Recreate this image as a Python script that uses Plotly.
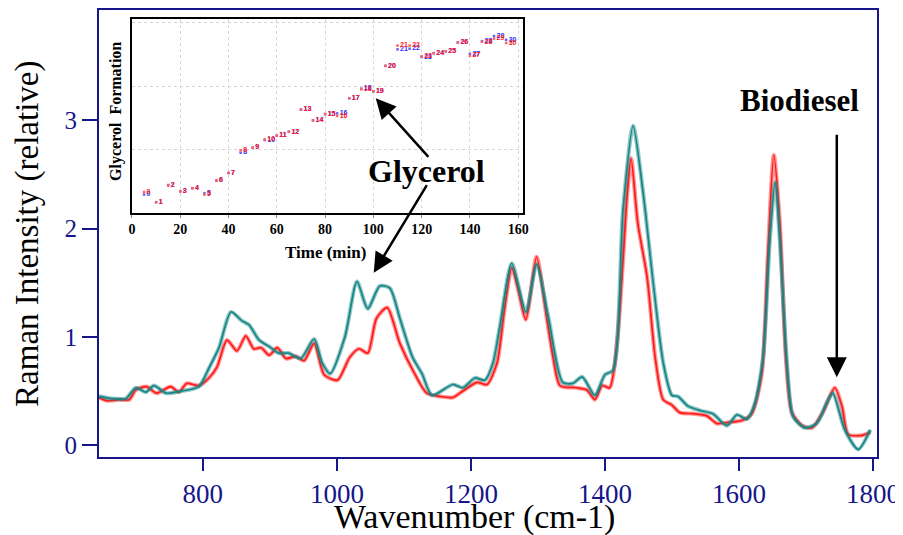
import plotly.graph_objects as go

# ---------------- main spectra ----------------
red_wn = [645, 657, 675, 690, 700, 716, 731, 752, 764, 776, 794, 809, 821, 836, 851, 864, 876, 887, 899,
          911, 924, 939, 951, 966, 981, 1001, 1019, 1033, 1046, 1059, 1075, 1094, 1116, 1134, 1154, 1173,
          1188, 1209, 1224, 1239, 1250, 1261, 1270, 1282, 1298, 1313, 1323, 1333, 1358, 1373, 1385, 1396,
          1407, 1418, 1427, 1433, 1439, 1449, 1463, 1475, 1487, 1500, 1512, 1531, 1552, 1567, 1584, 1605,
          1619, 1634, 1643, 1652, 1661, 1670, 1679, 1694, 1709, 1725, 1743, 1754, 1763, 1784, 1796]
red_int = [0.44, 0.41, 0.42, 0.42, 0.51, 0.54, 0.48, 0.54, 0.49, 0.57, 0.55, 0.62, 0.72, 0.97, 0.87, 1.01,
           0.89, 0.90, 0.83, 0.90, 0.80, 0.82, 0.78, 0.94, 0.65, 0.60, 0.81, 0.89, 0.85, 1.17, 1.27, 0.94,
           0.66, 0.48, 0.45, 0.44, 0.50, 0.58, 0.56, 0.76, 1.25, 1.64, 1.45, 1.16, 1.74, 1.18, 0.80, 0.55,
           0.53, 0.51, 0.42, 0.55, 0.53, 0.94, 1.71, 2.30, 2.65, 2.05, 1.55, 0.81, 0.42, 0.37, 0.30, 0.29,
           0.27, 0.20, 0.21, 0.23, 0.29, 0.66, 1.74, 2.68, 2.05, 0.81, 0.30, 0.18, 0.16, 0.30, 0.53, 0.35,
           0.10, 0.09, 0.12]

teal_wn = [645, 664, 685, 700, 715, 727, 745, 769, 794, 809, 824, 842, 858, 869, 884, 899, 913, 928, 946,
           966, 978, 990, 1012, 1030, 1046, 1064, 1079, 1094, 1113, 1127, 1142, 1173, 1188, 1206, 1221,
           1233, 1243, 1261, 1282, 1298, 1315, 1337, 1352, 1366, 1385, 1400, 1412, 1427, 1442, 1457, 1472,
           1487, 1500, 1509, 1524, 1542, 1561, 1582, 1597, 1612, 1624, 1636, 1646, 1654, 1661, 1672, 1681,
           1699, 1716, 1731, 1740, 1758, 1778, 1796]
teal_int = [0.45, 0.43, 0.43, 0.53, 0.49, 0.55, 0.48, 0.50, 0.54, 0.71, 0.90, 1.23, 1.15, 1.11, 0.97, 0.91,
            0.85, 0.85, 0.80, 0.98, 0.76, 0.66, 1.00, 1.51, 1.26, 1.47, 1.45, 1.17, 0.81, 0.66, 0.46, 0.56,
            0.53, 0.62, 0.60, 0.76, 1.09, 1.68, 1.23, 1.67, 1.20, 0.58, 0.57, 0.63, 0.46, 0.65, 0.69, 2.17,
            2.95, 2.33, 1.50, 0.76, 0.46, 0.45, 0.36, 0.32, 0.29, 0.18, 0.28, 0.24, 0.39, 0.81, 1.89, 2.43,
            1.89, 0.72, 0.26, 0.16, 0.20, 0.39, 0.48, 0.14, -0.04, 0.14]

x_ticks = [800, 1000, 1200, 1400, 1600, 1800]
y_ticks = [0, 1, 2, 3]

# ---------------- inset: glycerol formation ----------------
time_min = [5, 10, 15, 20, 25, 30, 35, 40, 45, 50, 55, 60, 65, 70, 75, 80, 85, 90, 95, 100,
            105, 110, 115, 120, 125, 130, 135, 140, 145, 150, 155]
sample_labels = [str(i) for i in range(31)]
gly_red = [0.33, 0.17, 0.43, 0.34, 0.39, 0.29, 0.51, 0.63, 0.99, 1.03, 1.16, 1.22, 1.28, 1.63, 1.46, 1.56,
           1.53, 1.81, 1.95, 1.92, 2.32, 2.64, 2.64, 2.47, 2.52, 2.55, 2.69, 2.48, 2.70, 2.75, 2.68]
gly_blue = [0.29, 0.17, 0.44, 0.34, 0.39, 0.31, 0.51, 0.63, 0.95, 1.03, 1.15, 1.22, 1.28, 1.63, 1.46, 1.56,
            1.57, 1.81, 1.96, 1.92, 2.32, 2.58, 2.59, 2.46, 2.52, 2.55, 2.69, 2.51, 2.71, 2.79, 2.73]
inset_x_ticks = [0, 20, 40, 60, 80, 100, 120, 140, 160]
inset_y_grid = [1, 2, 3]

NAVY = "#16168a"
RED = "#ff1a1a"
TEAL = "#158585"
SERIF = "Liberation Serif"

fig = go.Figure()

# spectra: soft wide band + solid core to imitate the overlaid repeat scans
for wn, inten, col in [(red_wn, red_int, RED), (teal_wn, teal_int, TEAL)]:
    fig.add_trace(go.Scatter(x=wn, y=inten, mode="lines", opacity=0.45,
                             line=dict(color=col, width=4.2, shape="spline", smoothing=0.7),
                             hoverinfo="skip", xaxis="x", yaxis="y"))
    fig.add_trace(go.Scatter(x=wn, y=inten, mode="lines",
                             line=dict(color=col, width=1.7, shape="spline", smoothing=0.7),
                             xaxis="x", yaxis="y"))

# inset points
fig.add_trace(go.Scatter(x=time_min, y=gly_blue, mode="markers+text", text=sample_labels,
                         textposition="middle right",
                         textfont=dict(family="Liberation Sans", size=7, color="#3030ff", weight="bold"),
                         marker=dict(color="#6060ff", size=2.5, symbol="square"),
                         xaxis="x2", yaxis="y2"))
fig.add_trace(go.Scatter(x=time_min, y=gly_red, mode="markers+text", text=sample_labels,
                         textposition="middle right",
                         textfont=dict(family="Liberation Sans", size=7, color="#ff2020", weight="bold"),
                         marker=dict(color="#ff6060", size=2.5, symbol="square"),
                         xaxis="x2", yaxis="y2"))

# the page adds an 8px body margin, so margins are offset by 8px
fig.update_layout(
    width=903, height=535,
    margin=dict(l=91, r=34, t=2, b=86, autoexpand=False),
    paper_bgcolor="white", plot_bgcolor="white",
    showlegend=False,
    xaxis=dict(range=[645, 1806], tickvals=x_ticks, ticks="outside", ticklen=12, tickwidth=2,
               tickcolor=NAVY, showline=True, linecolor=NAVY, linewidth=2, mirror=True,
               showgrid=False, zeroline=False, automargin=False,
               tickfont=dict(family=SERIF, size=27, color=NAVY)),
    yaxis=dict(range=[-0.11, 4.02], tickvals=y_ticks, ticks="outside", ticklen=15, tickwidth=2,
               tickcolor=NAVY, showline=True, linecolor=NAVY, linewidth=2, mirror=True,
               showgrid=False, zeroline=False, automargin=False,
               tickfont=dict(family=SERIF, size=25, color=NAVY)),
    xaxis2=dict(domain=[0.0424, 0.545], anchor="y2", range=[0, 162], tickvals=inset_x_ticks,
                ticks="outside", ticklen=3, tickcolor="#888888", automargin=False,
                showline=True, linecolor="black", linewidth=1.5, mirror=True,
                showgrid=True, gridcolor="#d6d6d6", griddash="dot", gridwidth=1, zeroline=False,
                tickfont=dict(family=SERIF, size=14, color="black", weight="bold")),
    yaxis2=dict(domain=[0.546, 0.980], anchor="x2", range=[0, 3.06], tickvals=inset_y_grid,
                showticklabels=False, ticks="", automargin=False,
                showline=True, linecolor="black", linewidth=1.5, mirror=True,
                showgrid=True, gridcolor="#d6d6d6", griddash="dot", gridwidth=1, zeroline=False),
)

annotations = [
    # axis titles
    dict(text="Wavenumber (cm-1)", xref="paper", yref="paper", x=0.483, y=-0.134,
         showarrow=False, xanchor="center", yanchor="middle",
         font=dict(family=SERIF, size=34, color="black")),
    dict(text="Raman Intensity (relative)", xref="paper", yref="paper", x=-0.0913, y=0.499,
         showarrow=False, xanchor="center", yanchor="middle", textangle=-90,
         font=dict(family=SERIF, size=33, color="black")),
    # inset titles
    dict(text="Time (min)", xref="paper", yref="paper", x=0.2905, y=0.4586,
         showarrow=False, xanchor="center", yanchor="middle",
         font=dict(family=SERIF, size=17, color="black", weight="bold")),
    dict(text="Glycerol  Formation", xref="paper", yref="paper", x=0.0219, y=0.772,
         showarrow=False, xanchor="center", yanchor="middle", textangle=-90,
         font=dict(family=SERIF, size=16, color="black", weight="bold")),
    # labels
    dict(text="Glycerol", xref="x", yref="y", x=1133, y=2.53, showarrow=False,
         font=dict(family=SERIF, size=32, color="black", weight="bold")),
    dict(text="Biodiesel", xref="x", yref="y", x=1691, y=3.18, showarrow=False,
         font=dict(family=SERIF, size=31, color="black", weight="bold")),
    # arrows
    dict(text="", xref="x", yref="y", x=1746, y=0.626, ax=0, ay=-244, axref="pixel", ayref="pixel",
         showarrow=True, arrowhead=2, arrowsize=1.6, arrowwidth=2.5, arrowcolor="black"),
    dict(text="", xref="x", yref="y", x=1058, y=3.204, ax=54, ay=60, axref="pixel", ayref="pixel",
         showarrow=True, arrowhead=2, arrowsize=1.6, arrowwidth=2.5, arrowcolor="black"),
    dict(text="", xref="x", yref="y", x=1055, y=1.593, ax=54, ay=-89, axref="pixel", ayref="pixel",
         showarrow=True, arrowhead=2, arrowsize=1.6, arrowwidth=2.5, arrowcolor="black"),
]
fig.update_layout(annotations=annotations)

fig.write_html("out.html")
